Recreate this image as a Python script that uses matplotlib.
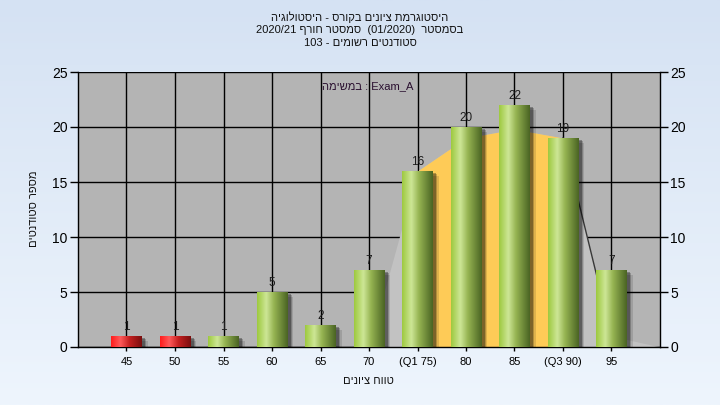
import numpy as np
import matplotlib
matplotlib.use('Agg')
import matplotlib.pyplot as plt
from matplotlib.colors import LinearSegmentedColormap
import matplotlib.patheffects as pe

plt.rcParams['font.family'] = ['Liberation Sans', 'DejaVu Sans']

# ---------------- data ----------------
grades = [45, 50, 55, 60, 65, 70, 75, 80, 85, 90, 95]
tick_labels = ['45', '50', '55', '60', '65', '70', '(Q1 75)', '80', '85', '(Q3 90)', '95']
counts = [1, 1, 1, 5, 2, 7, 16, 20, 22, 19, 7]
curve_grades = [70, 75, 80, 85, 90, 95, 100]
curve_values = [0, 16, 19, 19.8, 19, 1, 0]
q1, q3 = 75, 90
pass_mark = 55
y_ticks = [0, 5, 10, 15, 20, 25]


def vis(s):
    """Hebrew logical order -> visual (left-to-right) order."""
    return s[::-1]


title_lines = [
    vis("היסטוגרמת ציונים בקורס - היסטולוגיה"),
    "2020/21 " + vis("סמסטר חורף") + "  (01/2020)  " + vis("בסמסטר"),
    "103 - " + vis("סטודנטים רשומים"),
]
task_text = vis("במשימה") + " : Exam_A"
x_label = vis("טווח ציונים")
y_label = vis("מספר סטודנטים")

# ---------------- figure ----------------
W, H = 720, 405
fig = plt.figure(figsize=(W / 100, H / 100), dpi=100)

bg = fig.add_axes([0, 0, 1, 1], zorder=-10)
bg_cmap = LinearSegmentedColormap.from_list('bg', ['#d5e2f3', '#eef5fd'])
bg.imshow(np.linspace(0, 1, 256)[:, None], aspect='auto', cmap=bg_cmap,
          extent=[0, 1, 0, 1], origin='upper')
bg.set_axis_off()

L, R, T, B = 78, 660, 72, 347
ax = fig.add_axes([L / W, 1 - B / H, (R - L) / W, (B - T) / H])
ax.set_facecolor('#b4b4b4')
ax.set_xlim(40, 100)
ax.set_ylim(0, 25)
ax.set_axisbelow(True)
ax.grid(True, color='black', lw=1)

# background curve areas
cg = np.array(curve_grades)
cv = np.array(curve_values)
ax.fill_between(cg, cv, color='#c2c2c2', lw=0, zorder=1)
ax.fill_between(cg, cv, where=(cg >= q1) & (cg <= q3), color='#fecb57',
                lw=0, zorder=1.5)
seg = (cg >= q3) & (cg <= 95)
ax.plot(cg[seg], cv[seg], color='#383838', lw=1, zorder=1.6)

# bars
green = LinearSegmentedColormap.from_list(
    'g', [(0, '#9dc93e'), (0.3, '#cde696'), (0.55, '#96b452'), (1, '#4a6423')])
red = LinearSegmentedColormap.from_list(
    'r', [(0, '#ff1c1c'), (0.3, '#ff5a5a'), (0.6, '#c42020'), (1, '#7a0e0e')])

bar_w = 3.1
bars = ax.bar(grades, counts, width=bar_w, color='#777777', lw=0, zorder=3)
grad = np.linspace(0, 1, 128)[None, :]
for b, g, c in zip(bars, grades, counts):
    b.set_path_effects([
        pe.SimplePatchShadow(offset=(4.5, -3.5), shadow_rgbFace='k', alpha=0.12),
        pe.SimplePatchShadow(offset=(3.5, -2.5), shadow_rgbFace='k', alpha=0.2),
        pe.SimplePatchShadow(offset=(2.5, -1.5), shadow_rgbFace='k', alpha=0.3),
        pe.Normal()])
    cmap = red if g < pass_mark else green
    x0 = b.get_x()
    im = ax.imshow(grad, aspect='auto', cmap=cmap, interpolation='bilinear',
                   extent=[x0, x0 + b.get_width(), 0, b.get_height()], zorder=4)
    im.set_clip_path(b)
    ax.annotate(str(c), (g, c), xytext=(0, 2.5), textcoords='offset points',
                ha='center', va='bottom', fontsize=8.5, color='#1c1c1c', zorder=5)

ax.set_xlim(40, 100)
ax.set_ylim(0, 25)
ax.set_xticks(grades)
ax.set_xticklabels(tick_labels)
ax.set_yticks(y_ticks)
ax.tick_params(axis='x', length=3, width=1, pad=4.5, labelsize=8, color='black')
ax.tick_params(axis='y', length=6, width=1, pad=1.5, labelsize=10, color='black')
for s in ['left', 'bottom']:
    ax.spines[s].set_color('black')
    ax.spines[s].set_linewidth(1)
ax.spines['top'].set_visible(False)
ax.spines['right'].set_visible(False)

ax2 = ax.twinx()
ax2.set_ylim(0, 25)
ax2.set_yticks(y_ticks)
ax2.tick_params(axis='y', length=6, width=1, pad=1.5, labelsize=10, color='black')
ax2.spines['right'].set_color('black')
ax2.spines['right'].set_linewidth(1)
for s in ['top', 'left', 'bottom']:
    ax2.spines[s].set_visible(False)

# texts
for i, line in enumerate(title_lines):
    fig.text(0.5, 1 - (17 + 13 * i) / H, line, ha='center', va='center',
             fontsize=8, color='#111111')
ax.text(368, 1 - 0, '', transform=None)
fig.text(368 / W, 1 - 86 / H, task_text, ha='center', va='center',
         fontsize=8, color='#2a1030')
fig.text(368 / W, 1 - 381 / H, x_label, ha='center', va='center',
         fontsize=8, color='#111111')
fig.text(34 / W, 1 - 209 / H, y_label, ha='center', va='center',
         rotation=90, fontsize=8, color='#111111')

fig.savefig('out.png', dpi=100)
